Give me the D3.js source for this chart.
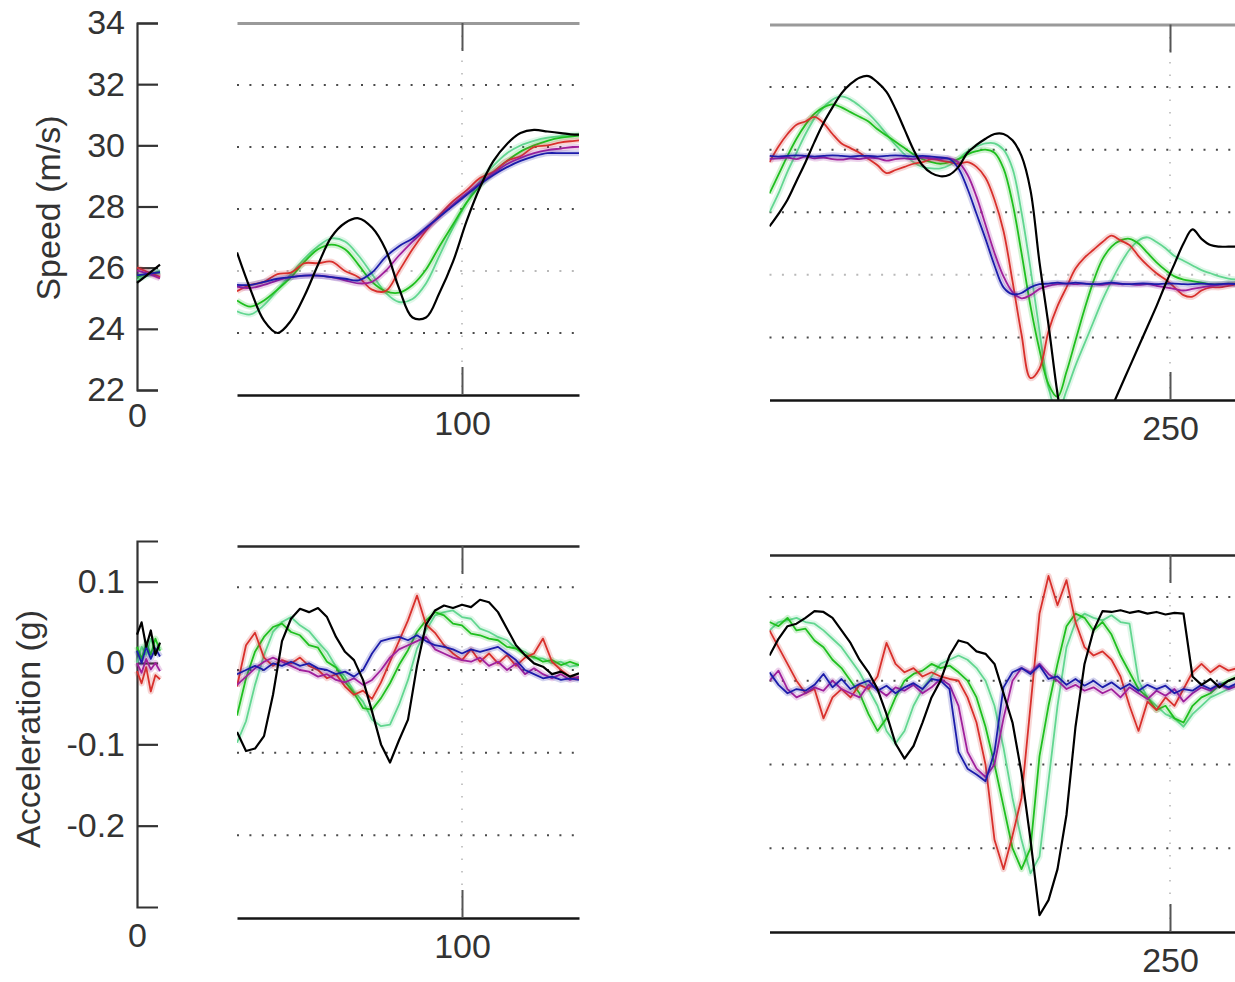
<!DOCTYPE html>
<html>
<head>
<meta charset="utf-8">
<script src="https://cdn.jsdelivr.net/npm/d3@7"></script>
<style>
  html, body { margin: 0; padding: 0; background: #fff; }
  svg { display: block; }
</style>
</head>
<body>
<svg id="chart" width="1235" height="982"></svg>
<script>
// ---------- axis ticks ----------
const speedTicks = [22, 24, 26, 28, 30, 32, 34];
const speedGrid = [24, 26, 28, 30, 32];
const accelTicks = [-0.2, -0.1, 0, 0.1];
const accelGrid = [-0.2, -0.1, 0, 0.1];
const xTicksStart = [0];
const xTicksMid = [100];
const xTicksRight = [250];

// ---------- sample times (s) ----------
const tStartSpeed = [0, 2.5, 5];
const tStartAccel = [0, 1, 2, 3, 4, 5];
const tMidSpeed = [50,53,56,59,62,65,68,71,74,77,80,83,86,89,92,95,98,101,104,107,110,113,116,119,122,125,128];
const tMidAccel = [50,52,54,56,58,60,62,64,66,68,70,72,74,76,78,80,82,84,86,88,90,92,94,96,98,100,102,104,106,108,110,112,114,116,118,120,122,124,126];
const tRight = [161,163,165,167,169,171,173,175,177,179,181,183,185,187,189,191,193,195,197,199,201,203,205,207,209,211,213,215,217,219,221,223,225,227,229,231,233,235,237,239,241,243,245,247,249,251,253,255,257,259,261,263,265];

// ---------- speed (m/s), first segment ----------
const speedStart_black = [25.5, 25.8, 26.1];
const speedStart_lightgreen = [25.6, 25.75, 25.9];
const speedStart_green = [25.7, 25.8, 25.85];
const speedStart_red = [26.0, 25.85, 25.7];
const speedStart_magenta = [25.9, 25.8, 25.65];
const speedStart_blue = [25.75, 25.8, 25.85];

// ---------- speed (m/s), middle segment ----------
const speedMid_black = [26.6,25.4,24.4,24.0,24.4,25.2,26.2,27.1,27.55,27.7,27.4,26.7,25.45,24.5,24.5,25.3,26.3,27.6,28.7,29.55,30.1,30.45,30.55,30.5,30.45,30.4,30.4];
const speedMid_lightgreen = [24.7,24.6,24.9,25.4,25.9,26.4,26.8,27.05,26.95,26.5,25.9,25.3,25.0,25.1,25.6,26.5,27.4,28.2,28.9,29.4,29.8,30.05,30.2,30.3,30.35,30.4,30.4];
const speedMid_green = [25.05,24.85,25.05,25.4,25.8,26.3,26.7,26.85,26.7,26.2,25.65,25.35,25.3,25.55,26.05,26.8,27.5,28.2,28.75,29.2,29.55,29.85,30.05,30.2,30.3,30.35,30.4];
const speedMid_red = [25.35,25.55,25.65,25.9,25.95,26.25,26.25,26.3,26.0,25.8,25.4,25.35,26.0,26.7,27.3,27.8,28.25,28.6,29.0,29.2,29.55,29.7,30.0,30.05,30.15,30.2,30.25];
const speedMid_magenta = [25.5,25.45,25.55,25.7,25.8,25.85,25.85,25.8,25.7,25.6,25.65,26.0,26.5,26.95,27.35,27.75,28.15,28.5,28.85,29.15,29.45,29.65,29.8,29.9,29.95,30.0,30.0];
const speedMid_blue = [25.55,25.55,25.65,25.75,25.8,25.85,25.85,25.8,25.75,25.7,25.95,26.45,26.8,27.05,27.4,27.75,28.1,28.45,28.8,29.1,29.35,29.55,29.7,29.8,29.8,29.8,29.8];

// ---------- speed (m/s), right segment ----------
const speedRight_black = [27.55,27.95,28.4,29.0,29.6,30.25,30.85,31.35,31.8,32.1,32.3,32.35,32.15,31.85,31.3,30.65,30.0,29.5,29.25,29.15,29.2,29.45,29.9,30.15,30.35,30.5,30.5,30.3,29.8,28.7,26.4,24.4,22.2,20.5,19.7,19.9,20.5,21.1,21.75,22.4,23.05,23.7,24.35,25.0,25.7,26.35,27.0,27.45,27.15,26.95,26.9,26.9,26.9];
const speedRight_lightgreen = [28.0,28.6,29.3,29.9,30.5,31.0,31.35,31.6,31.7,31.6,31.4,31.15,30.85,30.5,30.15,29.85,29.6,29.45,29.4,29.4,29.5,29.7,29.95,30.1,30.2,30.2,30.0,29.4,28.0,26.2,24.2,22.4,21.6,22.3,23.1,23.8,24.5,25.2,25.8,26.35,26.8,27.1,27.2,27.05,26.85,26.6,26.45,26.3,26.15,26.05,25.95,25.88,25.85];
const speedRight_green = [28.6,29.2,29.8,30.35,30.8,31.15,31.35,31.45,31.35,31.2,31.05,30.9,30.65,30.45,30.25,30.05,29.85,29.7,29.6,29.55,29.6,29.7,29.85,29.95,30.0,29.9,29.4,28.3,26.7,25.0,23.6,22.5,22.1,22.9,23.9,24.9,25.8,26.5,26.9,27.1,27.15,27.0,26.7,26.4,26.15,25.95,25.85,25.8,25.75,25.7,25.7,25.72,25.72];
const speedRight_red = [29.6,30.1,30.5,30.8,30.9,31.05,30.85,30.5,30.2,30.05,29.9,29.7,29.5,29.25,29.35,29.45,29.55,29.6,29.7,29.65,29.6,29.55,29.6,29.45,29.1,28.4,27.4,25.8,24.1,22.7,23.0,24.2,25.0,25.6,26.2,26.55,26.8,27.05,27.25,27.1,26.95,26.6,26.3,26.05,25.85,25.6,25.35,25.3,25.5,25.6,25.6,25.65,25.7];
const speedRight_magenta = [29.7,29.72,29.75,29.7,29.78,29.72,29.75,29.7,29.68,29.72,29.7,29.75,29.72,29.65,29.7,29.72,29.7,29.75,29.72,29.7,29.72,29.6,29.2,28.5,27.6,26.7,25.95,25.45,25.25,25.35,25.55,25.65,25.7,25.72,25.7,25.72,25.7,25.68,25.72,25.7,25.7,25.68,25.7,25.65,25.6,25.55,25.5,25.55,25.6,25.65,25.68,25.7,25.7];
const speedRight_blue = [29.8,29.78,29.8,29.82,29.8,29.78,29.8,29.82,29.8,29.78,29.8,29.8,29.78,29.8,29.82,29.8,29.78,29.8,29.78,29.75,29.7,29.4,28.75,27.95,27.15,26.3,25.6,25.38,25.42,25.6,25.7,25.72,25.75,25.72,25.75,25.72,25.7,25.72,25.75,25.72,25.7,25.72,25.72,25.7,25.72,25.72,25.7,25.7,25.72,25.7,25.7,25.72,25.7];

// ---------- acceleration (g), first segment ----------
const accelStart_black = [0.035, 0.05, 0.02, 0.04, 0.01, 0.025];
const accelStart_lightgreen = [0.0, 0.02, 0.01, 0.03, 0.015, 0.02];
const accelStart_green = [0.02, 0.005, 0.025, 0.01, 0.03, 0.015];
const accelStart_red = [-0.01, -0.025, -0.005, -0.035, -0.015, -0.02];
const accelStart_magenta = [0.0, -0.012, 0.005, -0.008, 0.0, -0.01];
const accelStart_blue = [0.015, 0.0, 0.02, 0.005, 0.018, 0.008];

// ---------- acceleration (g), middle segment ----------
const accelMid_black = [-0.075,-0.098,-0.095,-0.08,-0.03,0.035,0.062,0.074,0.07,0.075,0.064,0.04,0.022,0.012,-0.012,-0.05,-0.09,-0.112,-0.085,-0.06,0.005,0.055,0.072,0.078,0.075,0.079,0.076,0.085,0.082,0.07,0.05,0.03,0.018,0.008,0.004,-0.005,-0.002,-0.008,-0.004];
const accelMid_lightgreen = [-0.088,-0.062,-0.018,0.018,0.046,0.058,0.064,0.054,0.047,0.034,0.022,0.004,-0.008,-0.026,-0.038,-0.06,-0.068,-0.066,-0.042,-0.012,0.026,0.048,0.066,0.07,0.072,0.064,0.062,0.05,0.046,0.04,0.036,0.026,0.022,0.014,0.014,0.008,0.01,0.004,0.006];
const accelMid_green = [-0.055,-0.01,0.022,0.04,0.052,0.056,0.046,0.042,0.03,0.027,0.01,0.003,-0.014,-0.028,-0.046,-0.048,-0.034,-0.016,0.006,0.024,0.046,0.06,0.07,0.066,0.056,0.054,0.044,0.042,0.038,0.036,0.028,0.026,0.018,0.016,0.01,0.012,0.006,0.01,0.006];
const accelMid_red = [-0.02,0.03,0.045,0.015,0.005,0.012,0.008,0.015,0.005,0.0,-0.01,-0.005,-0.02,-0.03,-0.025,-0.035,-0.015,0.01,0.035,0.06,0.09,0.055,0.045,0.03,0.02,0.012,0.025,0.01,0.02,0.008,0.018,0.005,0.015,0.02,0.038,0.01,0.0,-0.008,-0.01];
const accelMid_magenta = [-0.018,-0.008,0.002,0.01,0.015,0.01,0.005,0.0,-0.002,-0.008,-0.005,-0.012,-0.015,-0.01,-0.018,-0.012,0.0,0.015,0.025,0.03,0.035,0.04,0.025,0.02,0.015,0.012,0.01,0.015,0.005,0.01,0.0,0.008,-0.005,0.002,-0.005,-0.01,-0.005,-0.012,-0.008];
const accelMid_blue = [-0.005,0.0,0.005,0.0,0.008,0.005,0.01,0.005,0.008,0.002,0.0,-0.005,-0.002,-0.008,0.0,0.02,0.035,0.038,0.04,0.036,0.042,0.035,0.03,0.028,0.025,0.02,0.025,0.022,0.025,0.028,0.02,0.012,0.0,-0.005,-0.01,-0.008,-0.012,-0.01,-0.012];

// ---------- acceleration (g), right segment ----------
const accelRight_black = [0.03,0.05,0.065,0.068,0.075,0.083,0.082,0.075,0.06,0.045,0.025,0.01,-0.01,-0.04,-0.075,-0.093,-0.078,-0.05,-0.02,0.0,0.03,0.048,0.045,0.035,0.032,0.02,-0.015,-0.05,-0.11,-0.19,-0.28,-0.262,-0.225,-0.16,-0.055,0.02,0.06,0.083,0.082,0.084,0.081,0.083,0.08,0.082,0.079,0.081,0.08,0.005,-0.005,0.002,-0.008,0.0,0.004];
const accelRight_lightgreen = [0.06,0.07,0.072,0.075,0.07,0.068,0.06,0.05,0.04,0.025,0.01,-0.01,-0.03,-0.06,-0.075,-0.06,-0.03,-0.01,0.005,0.02,0.025,0.03,0.025,0.015,0.0,-0.03,-0.08,-0.14,-0.19,-0.23,-0.21,-0.12,-0.03,0.04,0.07,0.08,0.075,0.072,0.078,0.07,0.068,0.0,-0.02,-0.03,-0.04,-0.045,-0.055,-0.04,-0.03,-0.02,-0.015,-0.01,-0.005];
const accelRight_green = [0.07,0.065,0.075,0.06,0.062,0.048,0.04,0.025,0.015,0.0,-0.015,-0.04,-0.06,-0.045,-0.02,0.0,0.008,0.012,0.02,0.015,0.018,0.01,0.0,-0.02,-0.055,-0.1,-0.15,-0.2,-0.225,-0.2,-0.09,-0.03,0.02,0.065,0.08,0.075,0.06,0.07,0.055,0.03,0.01,-0.01,-0.02,-0.035,-0.03,-0.045,-0.05,-0.03,-0.02,-0.015,-0.005,0.0,0.005];
const accelRight_red = [0.06,0.04,0.02,0.0,-0.015,-0.01,-0.045,-0.02,-0.01,-0.02,-0.005,-0.01,0.005,0.045,0.02,0.01,0.015,0.005,0.01,0.005,0.002,0.0,-0.02,-0.05,-0.1,-0.19,-0.225,-0.185,-0.14,-0.03,0.08,0.125,0.09,0.12,0.07,0.04,0.03,0.035,0.025,0.005,-0.03,-0.06,-0.025,-0.035,-0.02,-0.03,-0.01,0.01,0.02,0.01,0.018,0.012,0.015];
const accelRight_magenta = [0.0,0.012,-0.01,-0.02,-0.015,-0.008,-0.012,0.0,-0.01,-0.015,-0.02,-0.005,-0.01,-0.018,-0.008,-0.012,-0.005,-0.015,-0.008,0.002,-0.005,-0.03,-0.085,-0.105,-0.115,-0.1,-0.045,0.0,0.015,0.01,0.02,0.008,0.0,-0.01,-0.005,-0.012,-0.008,-0.015,-0.01,-0.02,-0.008,-0.015,-0.022,-0.012,-0.018,-0.01,-0.025,-0.015,-0.008,-0.012,-0.005,-0.01,-0.006];
const accelRight_blue = [0.01,-0.005,-0.015,-0.01,-0.012,-0.005,0.008,-0.008,0.002,-0.01,-0.004,0.0,-0.012,-0.006,-0.015,-0.008,-0.003,-0.01,0.002,0.0,-0.01,-0.085,-0.105,-0.112,-0.12,-0.085,-0.008,0.01,0.015,0.008,0.018,0.002,0.005,-0.005,0.002,-0.006,0.0,-0.008,-0.002,-0.01,-0.004,-0.012,-0.005,-0.01,-0.006,-0.015,-0.01,-0.012,-0.005,-0.01,-0.004,-0.008,-0.003];

// ---------- styling ----------
const FONT = "'Liberation Sans', Arial, Helvetica, sans-serif";
const lineColor = {
  lightgreen: "#62d690",
  green: "#1fbf1f",
  red: "#d8302c",
  magenta: "#a0209c",
  blue: "#1c1caa",
  black: "#000000"
};
const drawOrder = ["lightgreen", "green", "red", "magenta", "blue", "black"];

function bundle(lg, g, r, m, b, k) {
  return [
    { key: "lightgreen", values: lg },
    { key: "green", values: g },
    { key: "red", values: r },
    { key: "magenta", values: m },
    { key: "blue", values: b },
    { key: "black", values: k }
  ];
}

const svg = d3.select("#chart");
svg.append("rect").attr("width", 1235).attr("height", 982).attr("fill", "#ffffff");
const defs = svg.append("defs");

// ---------- scales ----------
const xStart = d3.scaleLinear().domain([0, 5]).range([137, 160]);
const xMid = d3.scaleLinear().domain([50, 126]).range([237, 579]);
const xRight = d3.scaleLinear().domain([161, 265]).range([769.5, 1237.5]);

const ySpeedStart = d3.scaleLinear().domain([22, 34]).range([390, 23]);
const ySpeedMid = d3.scaleLinear().domain([22, 34]).range([395, 23]);
const ySpeedRight = d3.scaleLinear().domain([22, 34]).range([400, 24.5]);
const yAccelStart = d3.scaleLinear().domain([-0.3, 0.15]).range([907, 541]);
const yAccelMid = d3.scaleLinear().domain([-0.3, 0.15]).range([918, 546]);
const yAccelRight = d3.scaleLinear().domain([-0.3, 0.15]).range([932, 555]);

const plainNumber = d => String(d);

function styleAxis(sel) {
  sel.attr("font-size", 34).attr("font-family", FONT).attr("color", "#3a3a3a");
  sel.selectAll(".tick text").attr("fill", "#333");
}

function drawTraces(g, series, t, x, y, curve, clipId) {
  const line = d3.line()
    .x((d, i) => x(t[i]))
    .y(d => y(d))
    .curve(curve);
  const holder = g.append("g");
  if (clipId) holder.attr("clip-path", `url(#${clipId})`);
  drawOrder.forEach(key => {
    const s = series.find(e => e.key === key);
    if (key !== "black") {
      holder.append("path")
        .attr("d", line(s.values))
        .attr("fill", "none")
        .attr("stroke", lineColor[key])
        .attr("stroke-opacity", 0.2)
        .attr("stroke-width", 6)
        .attr("stroke-linejoin", "round");
    }
    holder.append("path")
      .attr("d", line(s.values))
      .attr("fill", "none")
      .attr("stroke", lineColor[key])
      .attr("stroke-width", key === "black" ? 2.2 : 1.8)
      .attr("stroke-linejoin", "round");
  });
}

// First (narrow) segment: y axis with ticks pointing inward and the "0" time label
function drawStartPanel(o) {
  const g = svg.append("g");
  g.append("g")
    .attr("transform", `translate(${xStart.range()[0]},0)`)
    .call(d3.axisLeft(o.y).tickValues(o.ticks).tickSize(-21).tickSizeOuter(-21)
      .tickPadding(12).tickFormat(plainNumber))
    .call(styleAxis)
    .call(a => {
      a.select(".domain").attr("stroke", "#333").attr("stroke-width", 2.2);
      a.selectAll(".tick line").attr("stroke", "#333").attr("stroke-width", 2.2);
    });
  g.append("g")
    .attr("transform", `translate(0,${o.y.range()[0]})`)
    .call(d3.axisBottom(xStart).tickValues(xTicksStart).tickSize(0).tickPadding(o.xPad)
      .tickFormat(plainNumber))
    .call(styleAxis)
    .call(a => a.select(".domain").remove());
  drawTraces(g, o.series, o.t, xStart, o.y, o.curve, null);
  g.append("text")
    .attr("transform", `translate(${o.titleX},${o.titleY}) rotate(-90)`)
    .attr("text-anchor", "middle")
    .attr("font-family", FONT)
    .attr("font-size", 34)
    .attr("fill", "#333")
    .text(o.title);
}

// Broken-axis segments with frame lines, dotted grid and a single time tick
function drawSegment(o) {
  const g = svg.append("g");
  const [x0, x1] = o.x.range();
  const bottom = o.y.range()[0], top = o.y.range()[1];

  g.selectAll(null).data(o.grid).join("line")
    .attr("x1", x0).attr("x2", x1)
    .attr("y1", d => o.y(d)).attr("y2", d => o.y(d))
    .attr("stroke", d => (o.faint.includes(d) ? "#b9b9b9" : "#4a4a4a"))
    .attr("stroke-width", 2)
    .attr("stroke-dasharray", "2,10.4");

  g.selectAll(null).data(o.xTicks).join("line")
    .attr("x1", d => o.x(d)).attr("x2", d => o.x(d))
    .attr("y1", top).attr("y2", bottom)
    .attr("stroke", "#b4b4b4")
    .attr("stroke-width", 1.5)
    .attr("stroke-dasharray", "1.5,11");

  defs.append("clipPath").attr("id", o.id)
    .append("rect")
    .attr("x", x0).attr("y", top)
    .attr("width", x1 - x0).attr("height", bottom - top);

  drawTraces(g, o.series, o.t, o.x, o.y, o.curve, o.id);

  g.append("g")
    .attr("transform", `translate(0,${top})`)
    .call(d3.axisTop(o.x).tickValues(o.xTicks).tickSize(-28).tickSizeOuter(0).tickFormat(""))
    .call(styleAxis)
    .call(a => {
      a.select(".domain").attr("stroke", o.topColor).attr("stroke-width", o.topWidth);
      a.selectAll(".tick line").attr("stroke", "#555").attr("stroke-width", 2);
    });

  g.append("g")
    .attr("transform", `translate(0,${bottom})`)
    .call(d3.axisBottom(o.x).tickValues(o.xTicks).tickSize(-28).tickSizeOuter(0).tickPadding(16)
      .tickFormat(plainNumber))
    .call(styleAxis)
    .call(a => {
      a.select(".domain").attr("stroke", "#151515").attr("stroke-width", 2.6);
      a.selectAll(".tick line").attr("stroke", "#555").attr("stroke-width", 2);
    });
}

// ---------- speed row ----------
drawStartPanel({
  y: ySpeedStart, ticks: speedTicks, t: tStartSpeed, curve: d3.curveCatmullRom, xPad: 13,
  series: bundle(speedStart_lightgreen, speedStart_green, speedStart_red, speedStart_magenta, speedStart_blue, speedStart_black),
  title: "Speed (m/s)", titleX: 60, titleY: 208
});
drawSegment({
  id: "clip-speed-mid", x: xMid, y: ySpeedMid, t: tMidSpeed, curve: d3.curveCatmullRom,
  grid: speedGrid, faint: [26], xTicks: xTicksMid, topColor: "#9a9a9a", topWidth: 3,
  series: bundle(speedMid_lightgreen, speedMid_green, speedMid_red, speedMid_magenta, speedMid_blue, speedMid_black)
});
drawSegment({
  id: "clip-speed-right", x: xRight, y: ySpeedRight, t: tRight, curve: d3.curveCatmullRom,
  grid: speedGrid, faint: [26], xTicks: xTicksRight, topColor: "#9a9a9a", topWidth: 3,
  series: bundle(speedRight_lightgreen, speedRight_green, speedRight_red, speedRight_magenta, speedRight_blue, speedRight_black)
});

// ---------- acceleration row ----------
drawStartPanel({
  y: yAccelStart, ticks: accelTicks, t: tStartAccel, curve: d3.curveLinear, xPad: 16,
  series: bundle(accelStart_lightgreen, accelStart_green, accelStart_red, accelStart_magenta, accelStart_blue, accelStart_black),
  title: "Acceleration (g)", titleX: 40, titleY: 729
});
drawSegment({
  id: "clip-accel-mid", x: xMid, y: yAccelMid, t: tMidAccel, curve: d3.curveLinear,
  grid: accelGrid, faint: [], xTicks: xTicksMid, topColor: "#2a2a2a", topWidth: 2.6,
  series: bundle(accelMid_lightgreen, accelMid_green, accelMid_red, accelMid_magenta, accelMid_blue, accelMid_black)
});
drawSegment({
  id: "clip-accel-right", x: xRight, y: yAccelRight, t: tRight, curve: d3.curveLinear,
  grid: accelGrid, faint: [], xTicks: xTicksRight, topColor: "#2a2a2a", topWidth: 2.6,
  series: bundle(accelRight_lightgreen, accelRight_green, accelRight_red, accelRight_magenta, accelRight_blue, accelRight_black)
});
</script>
</body>
</html>
